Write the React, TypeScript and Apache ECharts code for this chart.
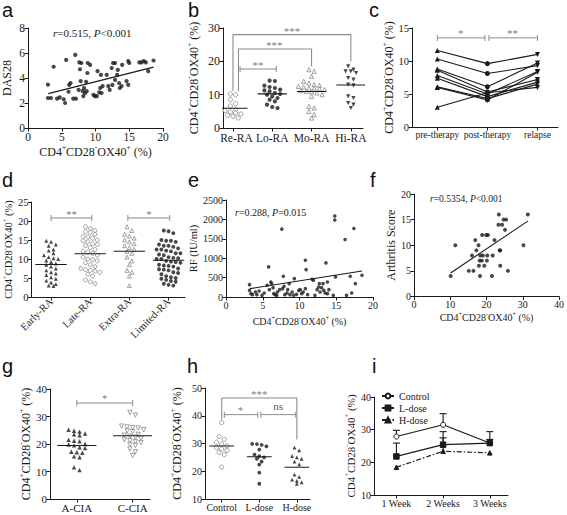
import React, { useEffect, useRef } from 'react';
import * as echarts from 'echarts';

const SERIF = "'Liberation Serif', 'Times New Roman', serif";
const SANS = "'Liberation Sans', Arial, sans-serif";
const INK = '#1a1a1a';
const GREY = '#7d7d7d';
const BRACKET = '#8c8c8c';

// ---------------- data ----------------
// a: CD4+CD28-OX40+ (%) vs DAS28
const dasPoints: [number, number][] = [
  [2.95, 3.47], [2.95, 2.4], [3.4, 2.4], [3.8, 4.9], [4.3, 2.35], [4.7, 2.45], [5.3, 2.3], [5.5, 2.0],
  [5.65, 5.45], [6.0, 2.9], [6.1, 3.45], [6.3, 3.6], [6.7, 2.35], [7.0, 5.85], [7.1, 2.35], [7.5, 3.05],
  [7.6, 5.25], [7.7, 4.7], [7.8, 3.75], [7.9, 5.2], [8.1, 2.95], [8.2, 2.55], [8.3, 3.2], [8.45, 2.8],
  [8.6, 3.7], [8.7, 2.95], [8.8, 4.4], [8.85, 5.2], [9.2, 5.05], [9.7, 2.65], [9.9, 2.55], [10.2, 2.55],
  [10.3, 4.55], [10.55, 2.85], [10.7, 3.2], [10.8, 4.25], [10.9, 2.8], [11.05, 3.35], [11.65, 4.25],
  [11.9, 3.35], [12.1, 3.05], [12.4, 4.8], [12.5, 3.45], [12.6, 5.2], [12.9, 5.2], [12.9, 3.85],
  [13.2, 4.25], [13.3, 4.65], [13.5, 3.6], [13.6, 3.2], [13.85, 3.35], [13.95, 5.05], [14.6, 3.75],
  [14.85, 5.35], [14.85, 3.45], [15.0, 5.2], [16.5, 5.25], [16.8, 5.25], [17.15, 5.35], [17.45, 5.25],
  [17.8, 4.55], [18.6, 5.4],
];
const dasFit: [number, number][] = [[3.0, 2.75], [18.6, 4.87]];

// b: disease activity groups
const severityGroups = ['Re-RA', 'Lo-RA', 'Mo-RA', 'Hi-RA'];
const reRA = [10.2, 9.9, 8.5, 7.3, 6.6, 5.5, 5.2, 4.8, 4.5, 4.2, 3.8, 3.5, 3.0];
const loRA = [14.2, 14.1, 12.7, 12.3, 12, 11.5, 11.3, 11, 10.5, 10.2, 10, 9.5, 9, 8.5, 8, 7, 6.3, 6];
const moRA = [17.5, 17, 15.5, 14, 13.5, 13, 12.8, 12.5, 12.3, 12, 12, 11.8, 11.5, 11.2, 11, 10.8, 10.5, 10, 9.5, 6.5, 6, 5, 4, 3];
const hiRA = [18.5, 17.5, 17, 17, 16.5, 15, 14.5, 13, 12.8, 9.5, 9, 7.5, 7, 6];

// c: paired therapy values
const therapyStages = ['pre-therapy', 'post-therapy', 'relapse'];
const preTherapy = [11.6, 10.3, 8.8, 8.6, 7.8, 7.4, 6.1, 6.0, 3.0];
const postTherapy = [9.6, 8.1, 6.1, 5.3, 5.0, 4.6, 4.3, 4.1, 5.2];
const relapseValues = [11.0, 9.3, 9.7, 7.2, 8.4, 6.8, 6.5, 8.3, 6.0];

// d: RA subtypes
const subtypeGroups = ['Early-RA', 'Late-RA', 'Extra-RA', 'Limited-RA'];
const earlyRA = [14.8, 14.5, 13.8, 13.5, 12.5, 12.2, 11.5, 11, 10.5, 10.2, 10, 9.6, 9.2, 8.8, 8.5, 8, 7.5, 7, 6.5, 6.2, 5.8, 5.2, 4.8, 4.3, 3.8, 3.4, 3, 2.9];
const lateRA = [18.5, 18, 17.5, 17.2, 17, 16.5, 16, 15.8, 15.5, 15, 14.8, 14.5, 14, 13.8, 13.5, 13, 12.5, 12, 11.8, 11.5, 11, 10.5, 10, 9.8, 9.5, 9, 8.5, 8, 7.5, 7.2, 7, 6.8, 6.5, 6, 5.5, 4.5, 4, 3.5];
const extraRA = [18.5, 17.5, 16.5, 16, 15.5, 15, 14.5, 14, 13.5, 13, 12.5, 12, 11.5, 10.5, 9.5, 8.5, 7, 6.5, 5.5, 3];
const limitedRA = [17.5, 17.3, 16.8, 15.0, 14.8, 14.8, 14.5, 13.8, 13.5, 13.5, 13.2, 12.8, 12.5, 12.5, 12.2, 12.0, 11.5, 11.5, 11.2, 11.0, 10.5, 10.3, 10.2, 10.0, 10.0, 9.5, 9.3, 9.2, 9.0, 8.5, 8.3, 8.2, 8.0, 7.5, 7.3, 7.2, 7.0, 6.5, 6.3, 6.0, 5.5, 5.2, 5.0, 4.8, 4.5, 4.2, 4.0, 3.5, 3.2, 3.0];

// e: RF vs CD4+CD28-OX40+
const rfPoints: [number, number][] = [
  [3.2, 320], [3.2, 172], [3.4, 86], [3.6, 60], [4.0, 130], [4.2, 60], [4.5, 155], [4.9, 43], [5.2, 103],
  [5.6, 302], [5.8, 776], [5.9, 190], [6.1, 388], [6.2, 345], [6.4, 241], [6.5, 86], [6.7, 60], [6.9, 43],
  [7.0, 129], [7.3, 190], [7.6, 1750], [7.7, 215], [7.8, 534], [7.9, 276], [8.0, 60], [8.3, 103], [8.4, 190],
  [8.6, 345], [8.7, 60], [9.0, 129], [9.2, 43], [9.3, 474], [9.6, 69], [9.9, 172], [10.1, 190], [10.3, 86],
  [10.5, 129], [10.8, 215], [10.8, 948], [10.9, 707], [11.1, 60], [11.7, 457], [11.9, 431], [12.1, 43],
  [12.4, 190], [12.6, 259], [12.7, 345], [12.8, 129], [13.0, 241], [13.2, 345], [13.3, 172], [13.5, 103],
  [13.6, 879], [13.8, 388], [13.8, 86], [14.0, 190], [14.6, 43], [14.8, 2086], [14.8, 1983], [14.9, 517],
  [16.2, 1483], [16.4, 43], [16.9, 534], [17.1, 103], [17.4, 1767], [17.6, 345], [18.5, 560],
];
const rfFit: [number, number][] = [[3.27, 215], [18.5, 672]];

// f: arthritis score (CIA)
const arthritisPoints: [number, number][] = [
  [10.1, 4], [11.4, 10], [15.1, 5], [16, 8], [16.4, 5], [16.9, 11], [17.2, 9], [17.8, 10], [17.9, 6],
  [18.1, 7], [18.2, 4], [18.3, 8], [18.7, 7], [18.8, 12], [19, 8], [19.4, 6], [19.9, 12], [20.1, 7],
  [20.2, 8], [20.4, 12], [21.5, 4], [21.7, 8], [22.2, 11], [23.3, 14], [23.4, 16], [23.6, 9], [23.8, 9],
  [23.8, 6], [24.3, 14], [24.7, 15], [25.1, 13], [25.4, 15], [25.9, 5], [30.2, 10], [31.4, 16],
];
const arthritisFit: [number, number][] = [[10.1, 4.6], [31.4, 14.7]];

// g: CIA groups
const ciaGroups = ['A-CIA', 'C-CIA'];
const aCIA = [25.2, 24.8, 24.5, 23.8, 23.5, 23.2, 21.5, 21.2, 21, 20, 19.8, 19.5, 18.8, 18.5, 17.2, 17, 16.8, 15.5, 15.2, 11.5, 10.5];
const cCIA = [31.5, 30.5, 26.5, 26.2, 26, 25.8, 25.2, 24.8, 24.5, 23.5, 23.2, 22.8, 22.5, 22, 21.5, 21.2, 20.8, 20.5, 19.8, 19.5, 18.2, 17.2, 15.8];

// h: dose groups
const doseGroups = ['Control', 'L-dose', 'H-dose'];
const controlDose = [37.5, 32.5, 31.5, 30.5, 29.8, 29.2, 28.5, 28, 27.5, 26.8, 26, 21.5];
const lowDose = [29.9, 29.8, 29.5, 29, 27.8, 26, 25.4, 25, 24.5, 23.5, 22.4, 19.5, 15.5];
const highDose = [28.5, 27.5, 25.5, 25, 24.5, 23.5, 22.5, 18.8, 18, 17, 16.5, 16, 15.5];

// i: time course (mean and SEM)
const weekLabels = ['1 Week', '2 Weeks', '3 Weeks'];
const controlMean = [27.9, 31.5, 25.9];
const controlSem = [1.9, 3.4, 3.5];
const lowMean = [21.8, 25.4, 25.9];
const lowSem = [4.1, 2.1, 1.1];
const highMean = [18.5, 23.4, 22.9];
const highSem = [0, 6.0, 0];

// significance annotations
const capBrackets: [number, number, number, number][] = [
  [1, 0.18, 1.1, 17.7],
  [2, 0, 0.95, 13.5], [2, 1.03, 2.0, 13.5],
  [3, 0, 1.04, 20.8], [3, 1.96, 3.03, 20.8],
  [6, 0, 1.0, 34.9],
  [7, 0.07, 0.96, 40.4], [7, 1.04, 1.97, 40.4],
];
const legBrackets: [number, number, number, number, number, number][] = [
  [1, 0, 3, 28, 11, 20],
  [1, 0.14, 2, 23.7, 11, 18.5],
  [7, 0, 2, 46.4, 38.6, 31.4],
];
const starLabels: [number, number, number, string][] = [
  [1, 1.5, 29.0, '***'], [1, 1.05, 24.9, '***'], [1, 0.64, 18.9, '**'],
  [2, 0.47, 14.3, '*'], [2, 1.5, 14.3, '**'],
  [3, 0.52, 21.8, '**'], [3, 2.5, 21.8, '*'],
  [6, 0.5, 36.6, '*'],
  [7, 1, 48.0, '***'], [7, 0.5, 42.0, '*'], [7, 1.5, 43.4, 'ns'],
];

// ---------------- layout ----------------
const grids = [
  { left: 28, top: 28, width: 135, height: 100 },
  { left: 223, top: 28, width: 140, height: 100 },
  { left: 412, top: 28, width: 146, height: 99 },
  { left: 28, top: 202, width: 157, height: 95 },
  { left: 226, top: 200, width: 147, height: 97 },
  { left: 414, top: 194, width: 146, height: 102.5 },
  { left: 50, top: 389, width: 100, height: 110 },
  { left: 205, top: 388, width: 105, height: 111 },
  { left: 374, top: 397, width: 134, height: 98 },
];
const yRanges: [number, number, number][] = [
  [0, 8, 2], [0, 30, 10], [0, 15, 5], [0, 25, 5], [0, 2500, 500], [0, 20, 5], [0, 40, 10], [10, 50, 10], [10, 40, 10],
];
const xRanges: [number, number][] = [
  [0, 20], [-0.254, 3.31], [-0.506, 2.41], [-0.5, 3.42], [0, 20], [0, 40], [-0.48, 1.31], [-0.445, 2.35], [-0.48, 2.39],
];

const CD_NAME = '{n|CD4}{s|+}{n|CD28}{s|-}{n|OX40}{s|+}{n| (%)}';
function cdRich(fs: number) {
  const sf = Math.round(fs * 0.62 * 10) / 10;
  return {
    n: { fontSize: fs, fontFamily: SERIF, color: INK, lineHeight: fs + 4 },
    s: { fontSize: sf, fontFamily: SERIF, color: INK, verticalAlign: 'top', lineHeight: sf + 1 },
  };
}

function baseAxis(gi: number, fs: number) {
  return {
    gridIndex: gi,
    axisLine: { onZero: false, lineStyle: { color: INK, width: 1 } },
    axisTick: { length: 3.5, lineStyle: { color: INK, width: 1 } },
    axisLabel: {
      fontFamily: SERIF, fontSize: fs, color: INK, margin: 3,
      formatter: (v: number) => String(v),
    },
    splitLine: { show: false },
  };
}

function yAx(gi: number, name: string, nameFs: number, gap: number, fs: number, cd: boolean) {
  const [min, max, interval] = yRanges[gi];
  return {
    ...baseAxis(gi, fs),
    type: 'value', min, max, interval,
    name, nameLocation: 'middle', nameGap: gap,
    nameTextStyle: cd ? { rich: cdRich(nameFs) } : { fontFamily: SERIF, fontSize: nameFs, color: INK },
  };
}

function numX(gi: number, interval: number, fs: number, nameFs: number, gap: number) {
  const [min, max] = xRanges[gi];
  return {
    ...baseAxis(gi, fs),
    type: 'value', min, max, interval,
    name: CD_NAME, nameLocation: 'middle', nameGap: gap,
    nameTextStyle: { rich: cdRich(nameFs) },
  };
}

function catX(gi: number, labels: string[], fs: number, rotate = 0, margin = 3, firstShift = 0) {
  const [min, max] = xRanges[gi];
  const vals = labels.map((_, i) => i);
  const b = baseAxis(gi, fs);
  return {
    ...b,
    type: 'value', min, max,
    axisTick: { ...b.axisTick, customValues: vals },
    axisLabel: {
      ...b.axisLabel, customValues: vals, rotate, margin,
      formatter: (v: number) => {
        const i = Math.round(v);
        const t = labels[i] ?? '';
        return i === 0 && firstShift ? `{f|${t}}` : t;
      },
      rich: { f: { padding: [0, 0, 0, firstShift], fontFamily: SERIF, fontSize: fs, color: INK } },
    },
  };
}

function swarm(values: number[], center: number, symPx: number, yPer: number, xPer: number) {
  const sorted = [...values].sort((a, b) => b - a);
  const rows: number[][] = [];
  for (const v of sorted) {
    const last = rows[rows.length - 1];
    if (last && last[0] - v < symPx * yPer) last.push(v);
    else rows.push([v]);
  }
  const out: [number, number][] = [];
  rows.forEach((r) =>
    r.forEach((v, k) => out.push([center + (k - (r.length - 1) / 2) * symPx * 1.25 * xPer, v])),
  );
  return out;
}

function swarmSeries(gi: number, values: number[], idx: number, symbol: string, size: number, color: string, hollow: boolean, rotate = 0) {
  const g = grids[gi];
  const [ymin, ymax] = yRanges[gi];
  const [xmin, xmax] = xRanges[gi];
  const pts = swarm(values, idx, size, (ymax - ymin) / g.height, (xmax - xmin) / g.width);
  return {
    type: 'scatter', xAxisIndex: gi, yAxisIndex: gi, data: pts,
    symbol, symbolSize: size, symbolRotate: rotate,
    itemStyle: hollow ? { color: '#ffffff', borderColor: color, borderWidth: 0.9 } : { color },
    silent: true, z: 3,
  };
}

function meanLine(gi: number, values: number[], idx: number, hw: number) {
  const m = values.reduce((s, v) => s + v, 0) / values.length;
  return {
    type: 'line', xAxisIndex: gi, yAxisIndex: gi, data: [[idx - hw, m], [idx + hw, m]],
    symbol: 'none', lineStyle: { color: INK, width: 1.1 }, silent: true, z: 4,
  };
}

function scatterPts(gi: number, pts: [number, number][], size: number) {
  return {
    type: 'scatter', xAxisIndex: gi, yAxisIndex: gi, data: pts, symbol: 'circle',
    symbolSize: size, itemStyle: { color: INK }, silent: true, z: 3,
  };
}

function fitLine(gi: number, pts: [number, number][]) {
  return {
    type: 'line', xAxisIndex: gi, yAxisIndex: gi, data: pts, symbol: 'none',
    lineStyle: { color: INK, width: 1.1 }, silent: true, z: 4,
  };
}

function statText(x: number, y: number, fs: number, r: string, p: string) {
  return {
    type: 'text', x, y,
    style: {
      text: `{i|r}{n|${r}, }{i|P}{n|${p}}`,
      verticalAlign: 'middle',
      rich: {
        i: { fontStyle: 'italic', fontFamily: SERIF, fontSize: fs, fill: INK },
        n: { fontFamily: SERIF, fontSize: fs, fill: INK },
      },
    },
    silent: true,
  };
}

function panelLetter(ch: string, x: number, baseline: number) {
  const fs = 20;
  return {
    type: 'text', x, y: baseline - 16,
    style: {
      text: ch, fontFamily: SANS, fontSize: fs, lineHeight: 18, fill: '#111', verticalAlign: 'top',
    },
    silent: true,
  };
}

function buildOption() {
  const series: any[] = [];

  // a
  series.push(scatterPts(0, dasPoints, 4.2), fitLine(0, dasFit));

  // b
  const bGroups: [number[], string, boolean, number, string][] = [
    [reRA, 'circle', true, 0, GREY],
    [loRA, 'circle', false, 0, INK],
    [moRA, 'triangle', true, 0, GREY],
    [hiRA, 'triangle', false, 180, INK],
  ];
  bGroups.forEach(([vals, sym, hollow, rot, col], i) => {
    series.push(swarmSeries(1, vals, i, sym, 4.2, col, hollow, rot), meanLine(1, vals, i, 0.37));
  });

  // c
  preTherapy.forEach((_, k) => {
    series.push({
      type: 'line', xAxisIndex: 2, yAxisIndex: 2,
      data: [
        { value: [0, preTherapy[k]], symbol: 'triangle' },
        { value: [1, postTherapy[k]], symbol: 'circle' },
        { value: [2, relapseValues[k]], symbol: 'triangle', symbolRotate: 180 },
      ],
      symbolSize: 5, showSymbol: true,
      lineStyle: { color: INK, width: 1.1 }, itemStyle: { color: INK },
      silent: true, z: 3,
    });
  });

  // d
  const dGroups: [number[], string, boolean, string][] = [
    [earlyRA, 'triangle', false, INK],
    [lateRA, 'circle', true, GREY],
    [extraRA, 'triangle', true, GREY],
    [limitedRA, 'circle', false, INK],
  ];
  dGroups.forEach(([vals, sym, hollow, col], i) => {
    series.push(swarmSeries(3, vals, i, sym, 3.9, col, hollow), meanLine(3, vals, i, 0.4));
  });

  // e
  series.push(scatterPts(4, rfPoints, 3.6), fitLine(4, rfFit));

  // f
  series.push(scatterPts(5, arthritisPoints, 4), fitLine(5, arthritisFit));

  // g
  series.push(swarmSeries(6, aCIA, 0, 'triangle', 4.4, INK, false), meanLine(6, aCIA, 0, 0.35));
  series.push(swarmSeries(6, cCIA, 1, 'triangle', 4.4, GREY, true, 180), meanLine(6, cCIA, 1, 0.35));

  // h
  series.push(swarmSeries(7, controlDose, 0, 'circle', 4.2, GREY, true), meanLine(7, controlDose, 0, 0.33));
  series.push(swarmSeries(7, lowDose, 1, 'circle', 3.8, INK, false), meanLine(7, lowDose, 1, 0.33));
  series.push(swarmSeries(7, highDose, 2, 'triangle', 3.8, INK, false), meanLine(7, highDose, 2, 0.33));

  // brackets
  capBrackets.forEach(([gi, x1, x2, y]) => {
    series.push({
      type: 'line', xAxisIndex: gi, yAxisIndex: gi, data: [[x1, y], [x2, y]],
      symbol: 'rect', symbolSize: [1, 6], showSymbol: true,
      lineStyle: { color: BRACKET, width: 1 }, itemStyle: { color: BRACKET },
      silent: true, z: 2,
    });
  });
  legBrackets.forEach(([gi, x1, x2, y, l1, l2]) => {
    series.push({
      type: 'line', xAxisIndex: gi, yAxisIndex: gi,
      data: [[x1, l1], [x1, y], [x2, y], [x2, l2]],
      symbol: 'none', lineStyle: { color: BRACKET, width: 1.1 }, silent: true, z: 2,
    });
  });
  starLabels.forEach(([gi, x, y, t]) => {
    series.push({
      type: 'scatter', xAxisIndex: gi, yAxisIndex: gi,
      data: [{ value: [x, y], label: { formatter: t } }],
      symbolSize: 1, itemStyle: { color: 'rgba(0,0,0,0)' },
      label: {
        show: true, position: 'inside', fontFamily: SERIF,
        fontSize: 11, color: t === 'ns' ? INK : '#555',
      },
      silent: true, z: 5,
    });
  });

  // i
  const iLines: [string, number[], string, number, any, string][] = [
    ['Control', controlMean, 'circle', 5, 'solid', '#ffffff'],
    ['L-dose', lowMean, 'rect', 5.5, 'solid', INK],
    ['H-dose', highMean, 'triangle', 4.5, [5, 2, 1.5, 2], INK],
  ];
  iLines.forEach(([name, vals, sym, size, type, fill]) => {
    series.push({
      name, type: 'line', xAxisIndex: 8, yAxisIndex: 8,
      data: vals.map((v, k) => [k, v]),
      symbol: sym, symbolSize: size, showSymbol: true,
      lineStyle: { color: INK, width: 1.2, type },
      itemStyle: { color: fill, borderColor: INK, borderWidth: 1 },
      silent: true, z: 4,
    });
  });
  const errData: number[][] = [];
  [[controlMean, controlSem], [lowMean, lowSem], [highMean, highSem]].forEach(([m, s]) => {
    m.forEach((v, k) => { if (s[k] > 0) errData.push([k, v, v + s[k]]); });
  });
  series.push({
    type: 'custom', xAxisIndex: 8, yAxisIndex: 8, data: errData, silent: true, z: 3,
    renderItem: (_p: any, api: any) => {
      const p0 = api.coord([api.value(0), api.value(1)]);
      const p1 = api.coord([api.value(0), api.value(2)]);
      return {
        type: 'group',
        children: [
          { type: 'line', shape: { x1: p0[0], y1: p0[1], x2: p1[0], y2: p1[1] }, style: { stroke: INK, lineWidth: 1.1 } },
          { type: 'line', shape: { x1: p1[0] - 3.5, y1: p1[1], x2: p1[0] + 3.5, y2: p1[1] }, style: { stroke: INK, lineWidth: 1.1 } },
        ],
      };
    },
  });

  const xAxis = [
    numX(0, 5, 11.5, 12, 16),
    catX(1, severityGroups, 11.5, 0, 4, 7),
    catX(2, therapyStages, 9.5),
    catX(3, subtypeGroups, 10.5, 45),
    numX(4, 5, 10, 10, 17),
    numX(5, 10, 10, 10, 14),
    catX(6, ciaGroups, 11),
    catX(7, doseGroups, 10),
    catX(8, weekLabels, 10),
  ];
  const yAxis = [
    yAx(0, 'DAS28', 12, 15, 11.5, false),
    yAx(1, CD_NAME, 12, 21, 12, true),
    yAx(2, CD_NAME, 12, 14, 10.5, true),
    yAx(3, CD_NAME, 10.5, 16, 10.5, true),
    yAx(4, 'RF (IU/ml)', 10.5, 24, 10, false),
    yAx(5, 'Arthritis Score', 12, 17, 10, false),
    yAx(6, CD_NAME, 12, 13, 11, true),
    yAx(7, CD_NAME, 12, 20, 10, true),
    yAx(8, CD_NAME, 11, 16, 10, true),
  ];

  return {
    animation: false,
    backgroundColor: '#fff',
    grid: grids,
    xAxis,
    yAxis,
    legend: {
      data: ['Control', 'L-dose', 'H-dose'],
      orient: 'vertical', left: 381, top: 391, padding: 0,
      itemWidth: 12, itemHeight: 6, itemGap: 2, selectedMode: false,
      textStyle: { fontFamily: SERIF, fontSize: 10, color: INK },
    },
    graphic: [
      panelLetter('a', 2, 17), panelLetter('b', 188, 17), panelLetter('c', 369, 17),
      panelLetter('d', 2, 187), panelLetter('e', 188, 187), panelLetter('f', 370, 187),
      panelLetter('g', 2, 373), panelLetter('h', 187, 373), panelLetter('i', 372, 373),
      statText(53, 33, 11, '=0.515', '<0.001'),
      statText(235, 212.5, 10, '=0.288', '=0.015'),
      statText(430, 199, 9.5, '=0.5354', '<0.001'),
    ],
    series,
  };
}

export default function App() {
  const ref = useRef<HTMLDivElement>(null);
  useEffect(() => {
    if (!ref.current) return;
    const chart = echarts.init(ref.current, undefined, { renderer: 'svg' });
    chart.setOption(buildOption() as any);
    return () => chart.dispose();
  }, []);
  return (
    <div
      ref={ref}
      style={{ position: 'fixed', left: 0, top: 0, width: 567, height: 515, background: '#fff' }}
    />
  );
}
